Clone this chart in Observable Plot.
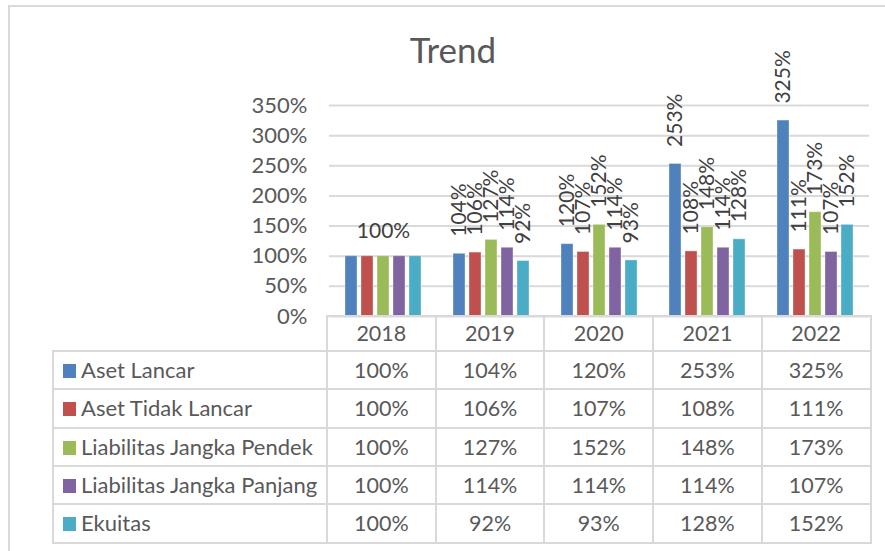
<!DOCTYPE html>
<html><head><meta charset="utf-8">
<script src="https://cdn.jsdelivr.net/npm/d3@7"></script>
<script src="https://cdn.jsdelivr.net/npm/@observablehq/plot@0.6"></script>
<style>
html,body{margin:0;padding:0;background:#fff;overflow:hidden;}
#wrap{position:relative;width:885px;height:551px;overflow:hidden;font-family:Lato,sans-serif;color:#595959;background:#fff;}
#frame{position:absolute;left:8px;top:5px;width:900px;height:600px;border-left:2.5px solid #d9d9d9;border-top:2.5px solid #d9d9d9;box-sizing:border-box;}
#title{position:absolute;left:353px;width:200px;top:32px;line-height:35px;font-size:35px;text-align:center;color:#595959;}
#chart{position:absolute;left:0;top:0;}
.ln{position:absolute;background:#d9d9d9;}
.tx{position:absolute;font-size:21.5px;white-space:nowrap;color:#595959;}
.lb{font-size:22px;}
.sw{position:absolute;width:13px;height:14px;}
</style>
</head><body>
<div id="wrap">
  <div id="frame"></div>
  <div id="chart"></div>
  <div id="title">Trend</div>
  <div id="table"></div>
</div>
<script>
const years = ["2018", "2019", "2020", "2021", "2022"];
const series = ["Aset Lancar", "Aset Tidak Lancar", "Liabilitas Jangka Pendek", "Liabilitas Jangka Panjang", "Ekuitas"];
const colors = ["#4F81BD", "#C0504D", "#9BBB59", "#8064A2", "#4BACC6"];
const asetLancar = [100, 104, 120, 253, 325];
const asetTidakLancar = [100, 106, 107, 108, 111];
const liabilitasPendek = [100, 127, 152, 148, 173];
const liabilitasPanjang = [100, 114, 114, 114, 107];
const ekuitas = [100, 92, 93, 128, 152];
const yTicks = [0, 50, 100, 150, 200, 250, 300, 350];

const values = [asetLancar, asetTidakLancar, liabilitasPendek, liabilitasPanjang, ekuitas];
const data = [];
years.forEach((yr, i) => series.forEach((s, j) => data.push({year: yr, series: s, value: values[j][i]})));
const pct = d => d + "%";

const W = 885, ML = 327, MR = 14.5, MT = 105, PB = 316, MB = 4;
const chart = Plot.plot({
  width: W, height: PB + MB,
  marginLeft: ML, marginRight: MR, marginTop: MT, marginBottom: MB,
  style: {background: "transparent", color: "#595959", fontFamily: "Lato, sans-serif", fontSize: "22px", overflow: "visible"},
  facet: {data: data, x: "year"},
  fx: {domain: years, padding: 0, axis: null, label: null},
  x: {domain: series, paddingInner: 0.24, paddingOuter: 0.88, axis: null, label: null},
  y: {domain: [0, 350], ticks: yTicks, tickFormat: pct, tickSize: 0, tickPadding: 22, label: null},
  color: {domain: series, range: colors},
  marks: [
    Plot.ruleY(yTicks, {stroke: "#d9d9d9", strokeWidth: 2}),
    Plot.barY(data, {x: "series", y: "value", fill: "series", stroke: "#ffffff", strokeOpacity: 0.35, strokeWidth: 1}),
    Plot.text(data, {filter: d => d.year !== years[0], x: "series", y: "value", text: d => pct(d.value),
      rotate: -90, textAnchor: "start", dy: -17, fill: "#404040", fontSize: 21}),
    Plot.text(data, {filter: d => d.year === years[0] && d.series === series[2], x: "series", y: "value",
      text: d => pct(d.value), lineAnchor: "bottom", dy: -18, fill: "#404040", fontSize: 21})
  ]
});
document.getElementById("chart").appendChild(chart);

// data table below the plot
const tbl = document.getElementById("table");
const colW = (W - ML - MR) / years.length;
const TL = 53, headTop = PB, headH = 35, rowH = 38.3;
const rowTop = i => headTop + headH + i * rowH;
const bottom = rowTop(series.length);
function line(x, y, w, h) {
  const d = document.createElement("div"); d.className = "ln";
  Object.assign(d.style, {left: x + "px", top: y + "px", width: w + "px", height: h + "px"});
  tbl.appendChild(d);
}
function text(str, x, y, w, h, align, cls) {
  const d = document.createElement("div"); d.className = "tx" + (cls ? " " + cls : ""); d.textContent = str;
  Object.assign(d.style, {left: x + "px", top: y + "px", width: w + "px", height: h + "px", lineHeight: h + "px", textAlign: align});
  tbl.appendChild(d);
}
// horizontal lines
line(ML, headTop - 1, W - MR - ML, 2);
for (let i = 0; i <= series.length; i++) line(TL, rowTop(i) - 1, W - MR - TL, 2);
// vertical lines
line(TL - 1, rowTop(0) - 1, 2, bottom - rowTop(0) + 2);
for (let i = 0; i <= years.length; i++) line(ML + i * colW - 1, headTop - 1, 2, bottom - headTop + 2);
// header
years.forEach((yr, i) => text(yr, ML + i * colW, headTop, colW, headH, "center"));
// rows
series.forEach((s, j) => {
  const sw = document.createElement("div"); sw.className = "sw";
  Object.assign(sw.style, {left: "62.5px", top: (rowTop(j) + rowH / 2 - 6) + "px", background: colors[j]});
  tbl.appendChild(sw);
  text(s, 81, rowTop(j), ML - 81, rowH, "left", "lb");
  years.forEach((yr, i) => text(pct(values[j][i]), ML + i * colW, rowTop(j), colW, rowH, "center"));
});
</script>
</body></html>
